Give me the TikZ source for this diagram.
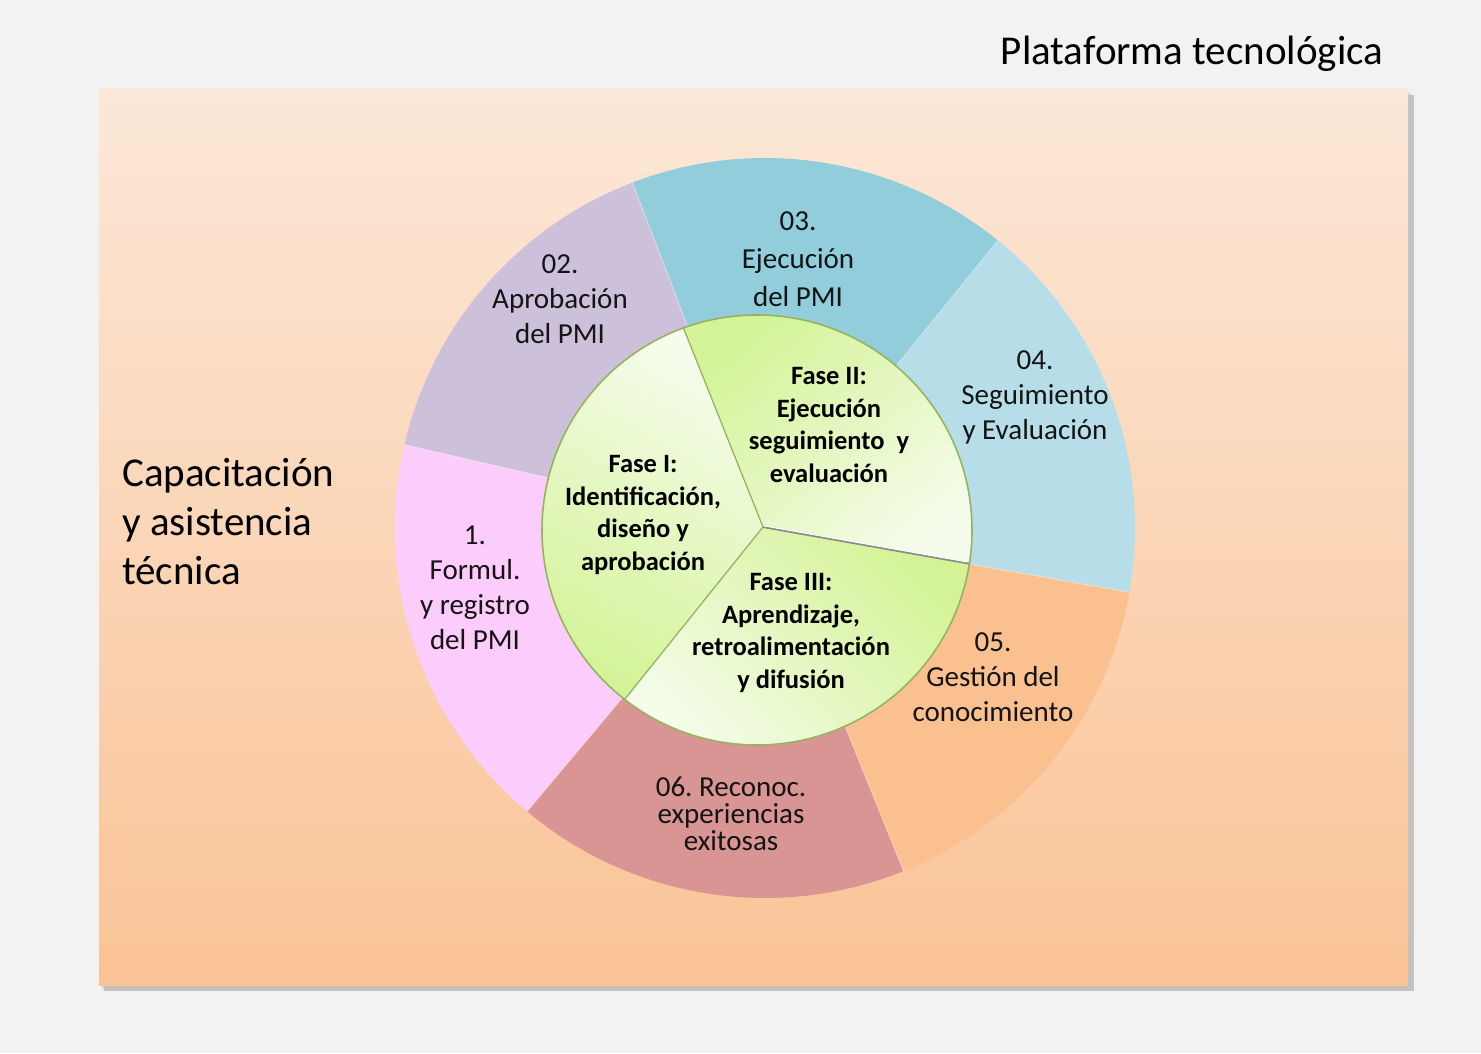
\documentclass[tikz,border=0pt]{standalone}
\usepackage{fontspec}
\setmainfont{Carlito}
\frenchspacing
\definecolor{pagebg}{RGB}{242,242,242}
\definecolor{bgtop}{RGB}{252,232,216}
\definecolor{bgbot}{RGB}{250,195,150}
\definecolor{cpink}{RGB}{252,204,252}
\definecolor{cpurple}{RGB}{204,192,218}
\definecolor{cblue}{RGB}{146,205,220}
\definecolor{clblue}{RGB}{183,221,232}
\definecolor{corange}{RGB}{250,192,144}
\definecolor{crose}{RGB}{217,149,148}
\definecolor{cgreen}{RGB}{212,243,150}
\definecolor{clight}{RGB}{245,252,236}
\definecolor{cline}{RGB}{150,180,95}
\definecolor{txt}{RGB}{20,20,20}
\begin{document}
\begin{tikzpicture}[x=1pt,y=1pt,
  outerlbl/.style={font=\fontsize{29}{35}\selectfont, align=center, text=txt, inner sep=0pt},
  innerlbl/.style={font=\fontsize{26.5}{32.7}\selectfont\bfseries, align=center, text=black, inner sep=0pt},
  biglbl/.style={font=\fontsize{41}{49}\selectfont, text=black, inner sep=0pt},
  sepline/.style={white, opacity=.35, line width=1pt},
  faseline/.style={cline, line width=1.3pt}]
\useasboundingbox (0,0) rectangle (1481,1053);
\fill[pagebg] (0,0) rectangle (1481,1053);
% panel with shadow
\fill[black!35, opacity=.6] (104,62) rectangle (1414,958);
\fill[black!25, opacity=.5] (102,64) rectangle (1411,960);
\shade[top color=bgtop, bottom color=bgbot] (99,68) rectangle (1408,964);
% outer ring
\begin{scope}[shift={(765,525)}]
  \foreach \a/\b/\c in {-10/51/clblue, 51/111/cblue, 111/167/cpurple, 167/230/cpink, 230/292/crose, 292/350/corange}
    \fill[\c] (\a:190) arc[start angle=\a, end angle=\b, radius=190] -- (\b:370) arc[start angle=\b, end angle=\a, radius=370] -- cycle;
  \foreach \a in {-10,51,111,167,230,292}
    \draw[sepline] (\a:210) -- (\a:370);
\end{scope}
% inner circle with three phases
\begin{scope}[shift={(757,523)}]
  \coordinate (P) at (6,3);
  \shade[top color=clight, bottom color=cgreen, shading angle=-30] (P) -- (110:215) arc[start angle=110, end angle=232, radius=215] -- cycle;
  \shade[top color=cgreen, bottom color=clight, shading angle=40] (P) -- (-9:215) arc[start angle=-9, end angle=110, radius=215] -- cycle;
  \shade[top color=cgreen, bottom color=clight, shading angle=-45] (P) -- (232:215) arc[start angle=232, end angle=351, radius=215] -- cycle;
  \draw[faseline] (P) -- (110:215);
  \draw[faseline] (P) -- (232:215);
  \draw[black!45, line width=2pt] (P) -- (-9:215);
  \draw[white, line width=0.7pt] ([yshift=1.2pt]P) -- ([yshift=1.2pt]-9:213);
  \draw[cline, line width=1.6pt] (0,0) circle (215);
\end{scope}
% labels
\node[biglbl, anchor=base] (title) at (1192,988) {Plataforma tecnológica};
\node[biglbl, align=left, anchor=west] (cap) at (122,531) {Capacitación\\y asistencia\\técnica};
\node[outerlbl] (s02) at (560,754) {02.\\Aprobación\\del PMI};
\node[outerlbl, font=\fontsize{29}{38}\selectfont] (s03) at (798,794) {03.\\Ejecución\\del PMI};
\node[outerlbl] (s04) at (1035,656) {04.\\Seguimiento\\y Evaluación};
\node[outerlbl] (s01) at (475,465) {1.\\Formul.\\y registro\\del PMI};
\node[outerlbl] (s05) at (993,376) {05.\\Gestión del\\conocimiento};
\node[outerlbl, font=\fontsize{29}{27}\selectfont] (s06) at (731,239) {06. Reconoc.\\experiencias\\exitosas};
\node[innerlbl] (f1) at (643,538) {Fase I:\\Identificación,\\diseño y\\aprobación};
\node[innerlbl] (f2) at (829,628) {Fase II:\\Ejecución\\seguimiento~ y\\evaluación};
\node[innerlbl] (f3) at (791,420) {Fase III:\\Aprendizaje,\\retroalimentación\\y difusión};
\end{tikzpicture}
\end{document}
